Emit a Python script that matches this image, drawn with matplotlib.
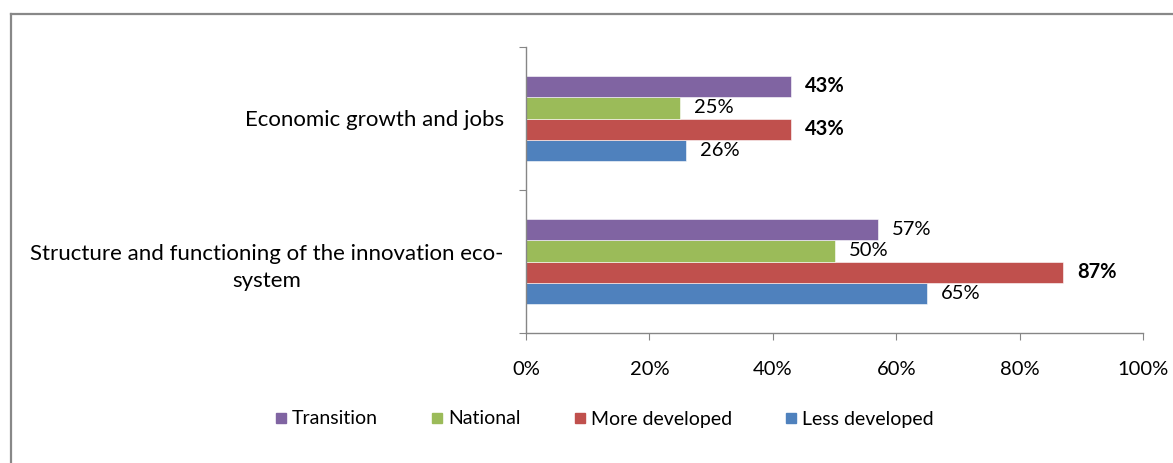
import matplotlib
matplotlib.use("Agg")
import matplotlib.pyplot as plt
from matplotlib.lines import Line2D
import numpy as np

plt.rcParams['font.family'] = ['Lato', 'DejaVu Sans']

categories = ["Structure and functioning of the innovation eco-\nsystem",
              "Economic growth and jobs"]
series = ["Less developed", "More developed", "National", "Transition"]
values = {
    "Less developed": [65, 26],
    "More developed": [87, 43],
    "National": [50, 25],
    "Transition": [57, 43],
}
bold_labels = {
    "Less developed": [False, False],
    "More developed": [True, True],
    "National": [False, False],
    "Transition": [False, True],
}
colors = {
    "Less developed": "#4F81BD",
    "More developed": "#C0504D",
    "National": "#9BBB59",
    "Transition": "#8064A2",
}
xticks = [0, 20, 40, 60, 80, 100]
xtick_labels = ["0%", "20%", "40%", "60%", "80%", "100%"]

W, H = 1173, 463
fig = plt.figure(figsize=(W / 100, H / 100), dpi=100)
ax = fig.add_axes([526 / W, 1 - 333 / H, (1143 - 526) / W, (333 - 47) / H])

bar_h = 0.15
offsets = [-1.5 * bar_h, -0.5 * bar_h, 0.5 * bar_h, 1.5 * bar_h]
ypos = np.arange(len(categories))
fs = 14.5
fs_cat = 16

for s, off in zip(series, offsets):
    ax.barh(ypos + off, values[s], height=bar_h, color=colors[s],
            edgecolor="white", linewidth=0.4)
    for yi, v, b in zip(ypos, values[s], bold_labels[s]):
        ax.annotate(f"{v}%", xy=(v, yi + off), xytext=(14, 0),
                    textcoords="offset pixels", va="center", ha="left",
                    fontsize=fs, fontweight="bold" if b else "normal",
                    color="black")

ax.set_xlim(0, 100)
ax.set_ylim(-0.5, 1.5)
ax.set_xticks(xticks)
ax.set_xticklabels(xtick_labels, fontsize=fs)
ax.set_yticks([-0.5, 0.5, 1.5], minor=False)
ax.set_yticklabels([])
ax.set_yticks(ypos, minor=True)
ax.set_yticklabels(categories, minor=True, fontsize=fs_cat, ha="right",
                   multialignment="center", linespacing=1.45)
ax.tick_params(axis="y", which="minor", length=0, pad=16)
ax.tick_params(axis="y", which="major", length=5, color="#868686", direction="out")
ax.tick_params(axis="x", length=5, color="#868686", direction="out", pad=15)

for side in ("top", "right"):
    ax.spines[side].set_visible(False)
for side in ("left", "bottom"):
    ax.spines[side].set_color("#868686")
    ax.spines[side].set_linewidth(1.0)

handles = [Line2D([], [], marker="s", linestyle="none", markersize=7,
                  markerfacecolor=colors[s], markeredgecolor=colors[s])
           for s in series[::-1]]
fig.legend(handles, series[::-1], loc="center", bbox_to_anchor=(605 / W, 1 - 419 / H),
           ncol=4, frameon=False, fontsize=14, handlelength=0.5,
           handletextpad=0.3, columnspacing=2.8)

# outer chart border
fig.add_artist(Line2D([10.5 / W, 10.5 / W], [0, 1 - 13.5 / H], color="#888888",
                      linewidth=1.6, transform=fig.transFigure))
fig.add_artist(Line2D([10.5 / W, 1], [1 - 13.5 / H, 1 - 13.5 / H], color="#888888",
                      linewidth=1.6, transform=fig.transFigure))

fig.savefig("out.png", dpi=100)
